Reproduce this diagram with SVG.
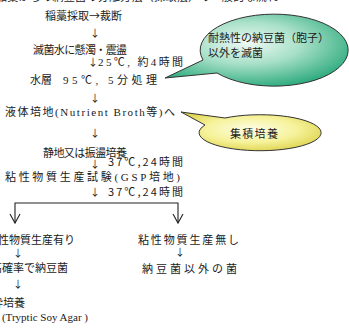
<svg xmlns="http://www.w3.org/2000/svg" width="349" height="328" viewBox="0 0 349 328">
<style>
.j{font-family:"Noto Sans CJK JP","Noto Sans",sans-serif;font-size:11px;fill:#1a1a1a}
.s{font-family:"Liberation Serif","Noto Sans CJK JP",serif}
.a{font-family:"Noto Sans CJK JP",sans-serif;font-size:10px;fill:#1a1a1a;text-anchor:middle}
.ln{fill:none;stroke:#222;stroke-width:1.1}
.bub{stroke:#333;stroke-width:1}
</style>
<defs>
<radialGradient id="gg" cx="0.45" cy="0.4" r="0.65">
<stop offset="0" stop-color="#eef9f4"/>
<stop offset="0.45" stop-color="#a8e0c8"/>
<stop offset="1" stop-color="#27a87a"/>
</radialGradient>
<radialGradient id="yg" cx="0.5" cy="0.45" r="0.6">
<stop offset="0" stop-color="#fdfde6"/>
<stop offset="0.55" stop-color="#f6f29a"/>
<stop offset="1" stop-color="#dcd24a"/>
</radialGradient>
</defs>
<rect width="349" height="328" fill="#fff"/>
<text class="j" x="-4" y="1" font-size="12" textLength="282">稲藁からの納豆菌の分離方法（採取法）の一般的な流れ</text>
<g id="steps">
<text class="j" x="45" y="20" font-size="11.2">稲藁採取→裁断</text>
<text class="a" x="95" y="37">↓</text>
<text class="j" x="33" y="54" textLength="94">滅菌水に懸濁・震盪</text>
<text class="a" x="93" y="66">↓</text>
<text class="j" x="98" y="66" font-size="12.5" textLength="85"><tspan class="s">25</tspan>℃<tspan class="s">, </tspan>約<tspan class="s">4</tspan>時間</text>
<text class="j" x="30" y="84" font-size="11.5">水層</text>
<text class="j" x="63" y="84" font-size="13.5" textLength="94"><tspan class="s">95</tspan>℃<tspan class="s">, 5</tspan>分処理</text>
<text class="a" x="95" y="102">↓</text>
<text class="j" x="5" y="116" font-size="12" textLength="170">液体培地<tspan class="s">(Nutrient Broth</tspan>等<tspan class="s">)</tspan>へ</text>
<text class="a" x="95" y="137">↓</text>
<text class="j" x="43" y="157" textLength="84">静地又は振盪培養</text>
<text class="a" x="95" y="168">↓</text>
<text class="j" x="108" y="166" font-size="12.5" textLength="75">37℃,24時間</text>
<text class="j" x="5" y="181" font-size="12" textLength="175">粘性物質生産試験<tspan class="s">(GSP</tspan>培地<tspan class="s">)</tspan></text>
<text class="a" x="95" y="196">↓</text>
<text class="j" x="108" y="196" font-size="12.5" textLength="75">37℃,24時間</text>
</g>
<g id="left-branch">
<text class="j" x="75" y="244" font-size="12" text-anchor="end">粘性物質生産有り</text>
<text class="a" x="18" y="257">↓</text>
<text class="j" x="68" y="272" font-size="12" text-anchor="end">高確率で納豆菌</text>
<text class="a" x="18" y="288">↓</text>
<text class="j" x="25" y="307" font-size="12" text-anchor="end">純粋培養</text>
<text class="j s" x="88" y="321" text-anchor="end" font-size="11.5">(Tryptic Soy Agar )</text>
</g>
<g id="right-branch">
<text class="j" x="138" y="244" font-size="12" textLength="101">粘性物質生産無し</text>
<text class="a" x="180" y="256">↓</text>
<text class="j" x="142" y="273" font-size="12" textLength="95">納豆菌以外の菌</text>
</g>
<g id="connectors">
<path class="ln" d="M15,223 V203 H178 V223"/>
<path class="ln" d="M10,214 L15,223 L20,214"/>
<path class="ln" d="M173,214 L178,223 L183,214"/>
</g>
<g id="callout-heat">
<path class="bub" fill="url(#gg)" d="M203,60 L165,78 L217,73 A74 36 0 1 0 203,60 Z"/>
<text class="j" x="208" y="42" font-size="12">耐熱性の納豆菌（胞子）</text>
<text class="j" x="208" y="57" font-size="12">以外を滅菌</text>
</g>
<g id="callout-enrich">
<path class="bub" fill="url(#yg)" d="M205,125 L181,112 L225,118 A61 18 0 1 1 205,125 Z"/>
<text class="j" x="230" y="138" font-size="13" letter-spacing="1.3">集積培養</text>
</g>
</svg>
